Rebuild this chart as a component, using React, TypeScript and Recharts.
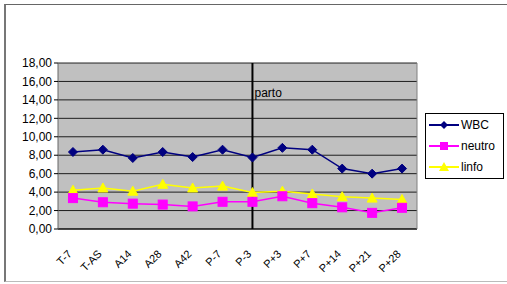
import React from 'react';
import { LineChart, Line, XAxis, YAxis, CartesianGrid, ReferenceLine } from 'recharts';

const categories = ['T-7', 'T-AS', 'A14', 'A28', 'A42', 'P-7', 'P-3', 'P+3', 'P+7', 'P+14', 'P+21', 'P+28'];
const wbc = [8.35, 8.6, 7.7, 8.35, 7.8, 8.6, 7.75, 8.8, 8.6, 6.55, 6.0, 6.55];
const neutro = [3.35, 2.9, 2.75, 2.65, 2.45, 2.95, 2.95, 3.55, 2.8, 2.35, 1.75, 2.3];
const linfo = [4.2, 4.45, 4.1, 4.85, 4.45, 4.65, 3.95, 4.1, 3.8, 3.5, 3.35, 3.2];
const yTicks = [0, 2, 4, 6, 8, 10, 12, 14, 16, 18];
const partoIndex = 6;
const partoLabel = 'parto';

const data = categories.map((c, i) => ({ i, label: c, WBC: wbc[i], neutro: neutro[i], linfo: linfo[i] }));
const centerTicks = categories.map((_, i) => i);
const boundaryTicks = categories.map((_, i) => i - 0.5).concat([categories.length - 0.5]);

const FONT = '"Liberation Sans", Arial, sans-serif';

const Diamond = (props: any) => {
  const { cx, cy } = props;
  if (cx == null || cy == null) return null;
  const r = 4.5;
  return <path d={`M${cx},${cy - r}L${cx + r},${cy}L${cx},${cy + r}L${cx - r},${cy}Z`} fill="#000080" stroke="#000080" />;
};
const Square = (props: any) => {
  const { cx, cy } = props;
  if (cx == null || cy == null) return null;
  const r = 4.5;
  return <rect x={cx - r} y={cy - r} width={2 * r} height={2 * r} fill="#ff00ff" stroke="#ff00ff" />;
};
const Triangle = (props: any) => {
  const { cx, cy } = props;
  if (cx == null || cy == null) return null;
  const r = 5;
  return <path d={`M${cx},${cy - r}L${cx + r},${cy + r * 0.8}L${cx - r},${cy + r * 0.8}Z`} fill="#ffff00" stroke="#ffff00" />;
};

const XTick = (props: any) => {
  const { x, y, payload } = props;
  const label = categories[payload.value] ?? '';
  const ax = x - 6;
  const ay = y + 12;
  return (
    <text x={ax} y={ay} transform={`rotate(-45, ${ax}, ${ay})`} textAnchor="end" dominantBaseline="hanging"
      fontFamily={FONT} fontSize={11} fill="#000">{label}</text>
  );
};

const legendItems = [
  { name: 'WBC', color: '#000080', shape: 'diamond' },
  { name: 'neutro', color: '#ff00ff', shape: 'square' },
  { name: 'linfo', color: '#ffff00', shape: 'triangle' },
];

const LegendBox = () => (
  <div style={{ position: 'absolute', left: 425, top: 113, width: 79, height: 66, border: '1px solid #000', background: '#fff', boxSizing: 'border-box' }}>
    {legendItems.map((it, k) => (
      <div key={it.name} style={{ position: 'absolute', left: 2, top: 2 + k * 21, height: 18, display: 'flex', alignItems: 'center' }}>
        <svg width={32} height={12}>
          <line x1={1} y1={6} x2={31} y2={6} stroke={it.color} strokeWidth={2} />
          {it.shape === 'diamond' && <path d="M16,2L20,6L16,10L12,6Z" fill={it.color} />}
          {it.shape === 'square' && <rect x={12} y={2} width={8} height={8} fill={it.color} />}
          {it.shape === 'triangle' && <path d="M16,1L21,10L11,10Z" fill={it.color} />}
        </svg>
        <span style={{ fontFamily: FONT, fontSize: 12, color: '#000', marginLeft: 1 }}>{it.name}</span>
      </div>
    ))}
  </div>
);

export default function App() {
  return (
    <div style={{ position: 'absolute', left: 0, top: 0, width: 507, height: 284, background: '#fff', overflow: 'hidden' }}>
      <div style={{ position: 'absolute', left: 4, top: 4, width: 520, height: 278, borderLeft: '2px solid #777', borderTop: '1px solid #666', borderBottom: '1px solid #bbb', boxSizing: 'border-box' }} />
      <div style={{ position: 'absolute', left: 0, top: 0 }}>
        <LineChart width={507} height={284} data={data} margin={{ top: 63, right: 89, bottom: 5, left: 0 }}>
          <CartesianGrid horizontal vertical={false} fill="#c0c0c0" stroke="#000" strokeOpacity={0.85} yAxisId="0" />
          <XAxis xAxisId="b" dataKey="i" type="number" domain={[-0.5, 11.5]} ticks={boundaryTicks} tick={false}
            tickLine={{ stroke: '#000' }} tickSize={4} axisLine={false} height={0} allowDataOverflow />
          <XAxis xAxisId="0" dataKey="i" type="number" domain={[-0.5, 11.5]} ticks={centerTicks} tick={<XTick />}
            tickLine={false} axisLine={{ stroke: '#000' }} height={50} interval={0} allowDataOverflow />
          <YAxis yAxisId="0" domain={[0, 18]} ticks={yTicks} width={58} tickSize={4} tickMargin={2} interval={0}
            tickFormatter={(v: number) => v.toFixed(2).replace('.', ',')}
            tick={{ fontFamily: FONT, fontSize: 12, fill: '#000' }} tickLine={{ stroke: '#000' }} axisLine={{ stroke: '#666' }} />
          <YAxis yAxisId="r" orientation="right" domain={[0, 18]} tick={false} tickLine={false} width={1} axisLine={{ stroke: '#808080' }} />
          <ReferenceLine xAxisId="0" yAxisId="0" x={partoIndex} stroke="#000" strokeWidth={2}
            label={{ value: partoLabel, position: 'insideTopLeft', dx: -3, dy: 20, fill: '#000', fontSize: 12, fontFamily: FONT }} />
          <Line xAxisId="0" yAxisId="0" type="linear" dataKey="linfo" stroke="#ffff00" strokeWidth={1.5} dot={<Triangle />} isAnimationActive={false} />
          <Line xAxisId="0" yAxisId="0" type="linear" dataKey="neutro" stroke="#ff00ff" strokeWidth={1.5} dot={<Square />} isAnimationActive={false} />
          <Line xAxisId="0" yAxisId="0" type="linear" dataKey="WBC" stroke="#000080" strokeWidth={1.5} dot={<Diamond />} isAnimationActive={false} />
        </LineChart>
      </div>
      <LegendBox />
    </div>
  );
}
